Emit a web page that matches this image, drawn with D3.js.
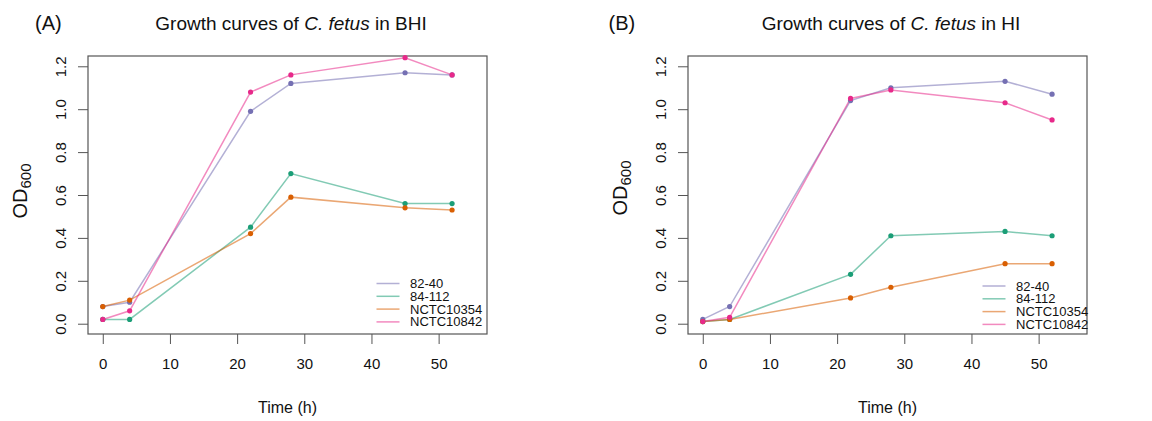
<!DOCTYPE html>
<html>
<head>
<meta charset="utf-8">
<script src="https://cdn.jsdelivr.net/npm/d3@7"></script>
<style>
  body { margin: 0; background: #fff; }
  text { font-family: "Liberation Sans", Arial, sans-serif; fill: #111; }
</style>
</head>
<body>
<div id="chart"></div>
<script>
// sampling times (h)
var times = [0, 4, 22, 28, 45, 52];

// strains and their colours
var strains = ["82-40", "84-112", "NCTC10354", "NCTC10842"];
var colors = ["#7570B3", "#1B9E77", "#D95F02", "#E7298A"];

// OD600 readings in BHI, one row per strain
var bhi_8240 = [0.08, 0.10, 0.99, 1.12, 1.17, 1.16];
var bhi_84112 = [0.02, 0.02, 0.45, 0.70, 0.56, 0.56];
var bhi_10354 = [0.08, 0.11, 0.42, 0.59, 0.54, 0.53];
var bhi_10842 = [0.02, 0.06, 1.08, 1.16, 1.24, 1.16];

// OD600 readings in HI
var hi_8240 = [0.02, 0.08, 1.04, 1.10, 1.13, 1.07];
var hi_84112 = [0.01, 0.02, 0.23, 0.41, 0.43, 0.41];
var hi_10354 = [0.01, 0.02, 0.12, 0.17, 0.28, 0.28];
var hi_10842 = [0.01, 0.03, 1.05, 1.09, 1.03, 0.95];

// axis ticks
var xTicks = [0, 10, 20, 30, 40, 50];
var yTicks = [0.0, 0.2, 0.4, 0.6, 0.8, 1.0, 1.2];
var yTickLabels = ["0.0", "0.2", "0.4", "0.6", "0.8", "1.0", "1.2"];

var W = 1152, H = 421;

var svg = d3.select("#chart")
  .append("svg")
  .attr("width", W)
  .attr("height", H);

// one panel: box, axes, lines, points, legend
function drawPanel(p) {
  var g = svg.append("g")
    .attr("transform", "translate(" + p.left + "," + p.top + ")");

  // R style: limits padded by 4%
  var x = d3.scaleLinear()
    .domain([-2.2, 57.2])
    .range([0, p.width]);
  var y = d3.scaleLinear()
    .domain([-0.048, 1.248])
    .range([p.height, 0]);

  // x axis
  var xAxis = g.append("g")
    .attr("transform", "translate(0," + p.height + ")")
    .call(d3.axisBottom(x).tickValues(xTicks).tickSize(10).tickSizeOuter(0).tickPadding(14));
  xAxis.select(".domain").remove();
  xAxis.selectAll("line").attr("stroke", "#555");
  xAxis.selectAll("text")
    .style("font-size", "15px")
    .style("font-family", "Liberation Sans, Arial, sans-serif")
    .attr("fill", "#111");

  // y axis with labels parallel to the axis
  var yAxis = g.append("g")
    .call(d3.axisLeft(y).tickValues(yTicks).tickSize(10).tickSizeOuter(0)
      .tickFormat(function(d, i) { return yTickLabels[i]; }));
  yAxis.select(".domain").remove();
  yAxis.selectAll("line").attr("stroke", "#555");
  yAxis.selectAll("text")
    .attr("x", null)
    .attr("dy", null)
    .attr("text-anchor", "middle")
    .attr("transform", "translate(-28,0)rotate(-90)")
    .attr("dominant-baseline", "central")
    .style("font-size", "15px")
    .style("font-family", "Liberation Sans, Arial, sans-serif")
    .attr("fill", "#111");

  // plot box
  g.append("rect")
    .attr("width", p.width)
    .attr("height", p.height)
    .attr("fill", "none")
    .attr("stroke", "#555")
    .attr("stroke-width", 1.2);

  // lines and points
  var line = d3.line()
    .x(function(d, i) { return x(times[i]); })
    .y(function(d) { return y(d); });

  p.series.forEach(function(vals, k) {
    g.append("path")
      .datum(vals)
      .attr("fill", "none")
      .attr("stroke", colors[k])
      .attr("stroke-opacity", 0.55)
      .attr("stroke-width", 1.5)
      .attr("d", line);
  });
  p.series.forEach(function(vals, k) {
    g.append("g")
      .selectAll("circle")
      .data(vals)
      .enter()
      .append("circle")
      .attr("cx", function(d, i) { return x(times[i]); })
      .attr("cy", function(d) { return y(d); })
      .attr("r", 2.6)
      .style("fill", colors[k]);
  });

  // legend (bottom right, inside the box)
  var leg = g.append("g")
    .attr("transform", "translate(" + p.legX + "," + p.legY + ")");
  strains.forEach(function(s, k) {
    leg.append("line")
      .attr("x1", 0).attr("x2", 23)
      .attr("y1", k * 12.8).attr("y2", k * 12.8)
      .attr("stroke", colors[k])
      .attr("stroke-opacity", 0.55)
      .attr("stroke-width", 1.5);
    leg.append("text")
      .attr("x", 33.5)
      .attr("y", k * 12.8)
      .attr("dominant-baseline", "central")
      .style("font-size", "13px")
      .text(s);
  });

  // y label OD600
  var yl = svg.append("text")
    .attr("transform", "translate(" + p.yLabX + "," + p.yLabY + ")rotate(-90)")
    .attr("text-anchor", "middle")
    .style("font-size", "20px");
  yl.append("tspan").text("OD");
  yl.append("tspan").attr("dy", 4).style("font-size", "15px").text("600");

  // x label
  svg.append("text")
    .attr("x", p.left + p.width / 2)
    .attr("y", 413)
    .attr("text-anchor", "middle")
    .style("font-size", "16px")
    .text("Time (h)");

  // title
  var t = svg.append("text")
    .attr("x", p.left + p.width / 2 + 3.5)
    .attr("y", 30)
    .attr("text-anchor", "middle")
    .style("font-size", "19px");
  t.append("tspan").text("Growth curves of ");
  t.append("tspan").style("font-style", "italic").text("C. fetus");
  t.append("tspan").text(" in " + p.medium);

  // panel letter
  svg.append("text")
    .attr("x", p.letterX)
    .attr("y", 30)
    .style("font-size", "20px")
    .text(p.letter);
}

drawPanel({
  left: 88, top: 56, width: 399, height: 278,
  series: [bhi_8240, bhi_84112, bhi_10354, bhi_10842],
  medium: "BHI", letter: "(A)", letterX: 35,
  yLabX: 27, yLabY: 191, legX: 288.5, legY: 227.5
});

drawPanel({
  left: 688, top: 56, width: 399, height: 278,
  series: [hi_8240, hi_84112, hi_10354, hi_10842],
  medium: "HI", letter: "(B)", letterX: 608.5,
  yLabX: 626.5, yLabY: 188, legX: 294.5, legY: 230
});
</script>
</body>
</html>
